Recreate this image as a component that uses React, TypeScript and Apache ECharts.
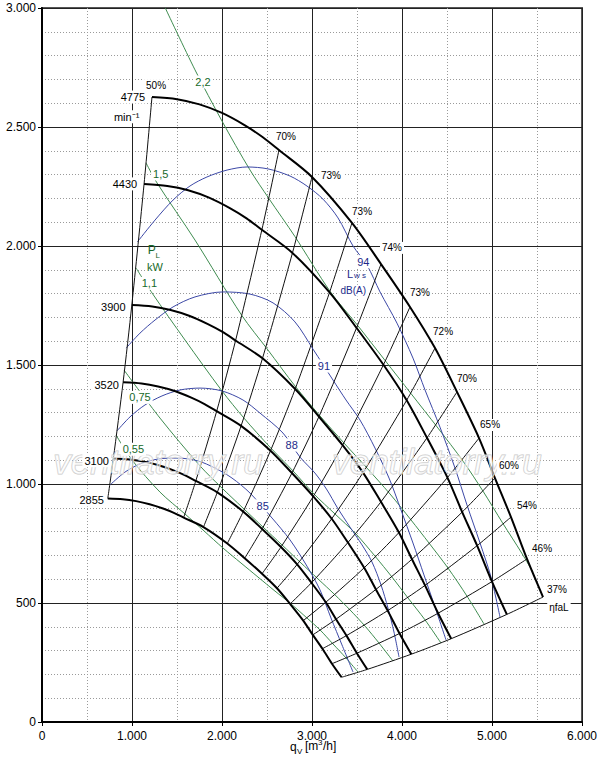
import React, { useEffect, useRef } from 'react';
import * as echarts from 'echarts';

const FONT = 'Liberation Sans, Arial, Helvetica, sans-serif';

// ---- speed curves (rpm) : points at the iso-efficiency lines ----
const speedLabels = ['4775', '4430', '3900', '3520', '3100', '2855'];
const effLabels = ['50%', '70%', '73%', '73%', '74%', '73%', '72%', '70%', '65%', '60%', '54%', '46%', '37%'];

const eff4775 = [[1222, 2626], [2633, 2403], [3000, 2290], [3444, 2097], [3767, 1924], [4089, 1744], [4367, 1571], [4611, 1387], [4856, 1193], [5033, 1025], [5211, 861], [5389, 685], [5567, 525]];
const mid4775 = [[1500, 2617], [1750, 2595], [2000, 2559], [2250, 2508], [2450, 2458]];
const eff4430 = [[1134, 2260], [2443, 2068], [2783, 1971], [3195, 1805], [3495, 1656], [3794, 1501], [4052, 1352], [4278, 1194], [4505, 1027], [4669, 882], [4835, 741], [5000, 590], [5165, 452]];
const mid4430 = [[1392, 2252], [1624, 2234], [1856, 2203], [2087, 2159], [2273, 2116]];
const eff3900 = [[998, 1752], [2151, 1603], [2450, 1528], [2813, 1399], [3077, 1283], [3340, 1163], [3567, 1048], [3766, 925], [3966, 796], [4111, 684], [4256, 574], [4401, 457], [4547, 350]];
const mid3900 = [[1225, 1746], [1429, 1731], [1634, 1707], [1838, 1673], [2001, 1640]];
const eff3520 = [[901, 1427], [1941, 1306], [2212, 1244], [2539, 1140], [2777, 1046], [3014, 948], [3219, 854], [3399, 754], [3580, 648], [3710, 557], [3841, 468], [3973, 372], [4104, 285]];
const mid3520 = [[1106, 1422], [1290, 1410], [1474, 1391], [1659, 1363], [1806, 1336]];
const eff3100 = [[793, 1107], [1709, 1013], [1948, 965], [2236, 884], [2446, 811], [2655, 735], [2835, 662], [2994, 585], [3153, 503], [3267, 432], [3383, 363], [3499, 289], [3614, 221]];
const mid3100 = [[974, 1103], [1136, 1094], [1298, 1079], [1461, 1057], [1591, 1036]];
const eff2855 = [[731, 939], [1574, 859], [1794, 819], [2059, 750], [2252, 688], [2445, 623], [2611, 562], [2757, 496], [2903, 426], [3009, 366], [3116, 308], [3222, 245], [3329, 188]];
const mid2855 = [[897, 936], [1046, 928], [1196, 915], [1345, 897], [1465, 879]];

// ---- shaft power lines P_L [kW] ----
const powerLabels = ['2,2', '1,5', '1,1', '0,75', '0,55'];
const pw22 = [[1370, 3000], [1700, 2740], [2000, 2525], [2310, 2320], [2520, 2200], [2810, 2040], [3200, 1810], [3510, 1665], [3810, 1520], [4100, 1380], [4400, 1235], [4680, 1095], [4900, 970], [5120, 835], [5330, 710], [5455, 630]];
const pw15 = [[1156, 2349], [1278, 2265], [1700, 2025], [2217, 1710], [2511, 1563], [2811, 1412], [3089, 1286], [3356, 1172], [3611, 1067], [3867, 958], [4100, 849], [4300, 752], [4511, 647], [4722, 529], [4911, 412]];
const pw11 = [[1044, 1908], [1222, 1803], [1589, 1605], [2000, 1391], [2244, 1277], [2533, 1155], [2789, 1055], [3022, 958], [3256, 874], [3489, 790], [3700, 697], [3889, 609], [4067, 521], [4256, 429], [4433, 332]];
const pw075 = [[911, 1479], [1311, 1277], [1756, 1076], [1989, 987], [2233, 899], [2456, 819], [2667, 744], [2867, 672], [3067, 601], [3256, 534], [3422, 471], [3589, 403], [3744, 332], [3900, 256]];
const pw055 = [[822, 1206], [1000, 1101], [1311, 966], [1589, 874], [1800, 803], [2011, 731], [2211, 668], [2400, 609], [2589, 550], [2767, 496], [2944, 437], [3089, 387], [3233, 328], [3378, 269], [3511, 210]];

// ---- sound power lines Lw s [dB(A)] ----
const noiseLabels = ['94', '91', '88', '85'];
const lw94 = [[1060, 2017], [1256, 2109], [1456, 2193], [1644, 2252], [1833, 2290], [2056, 2319], [2278, 2332], [2511, 2324], [2756, 2294], [2944, 2252], [3122, 2197], [3289, 2118], [3456, 2000], [3611, 1920], [3756, 1807], [3944, 1676], [4122, 1529], [4256, 1395], [4422, 1239], [4589, 1067], [4722, 912], [4867, 752], [4989, 609], [5089, 441]];
const lw91 = [[935, 1571], [1089, 1634], [1256, 1689], [1456, 1744], [1700, 1786], [2011, 1807], [2311, 1798], [2567, 1761], [2811, 1681], [3011, 1567], [3233, 1437], [3378, 1353], [3533, 1269], [3700, 1151], [3856, 1025], [3989, 891], [4122, 752], [4244, 618], [4367, 483], [4489, 345]];
const lw88 = [[833, 1223], [978, 1282], [1144, 1332], [1333, 1370], [1533, 1395], [1756, 1403], [2000, 1391], [2233, 1353], [2422, 1298], [2678, 1214], [2867, 1113], [3033, 1046], [3167, 975], [3278, 903], [3422, 819], [3556, 744], [3667, 672], [3767, 576], [3844, 479], [3911, 378], [3967, 273]];
const lw85 = [[756, 996], [922, 1050], [1089, 1084], [1289, 1105], [1511, 1109], [1733, 1097], [1922, 1067], [2111, 1025], [2311, 962], [2556, 857], [2756, 765], [2944, 655], [3089, 555], [3211, 437], [3333, 324], [3456, 210]];

// ---- label anchor positions (data coordinates) ----
const effLabelPos = [[1267, 2676], [2711, 2462], [3211, 2298], [3556, 2147], [3889, 1992], [4200, 1803], [4456, 1639], [4722, 1445], [4978, 1248], [5189, 1076], [5389, 908], [5556, 731], [5722, 555]];
const speedLabelPos = [[1011, 2626], [922, 2261], [792, 1745], [719, 1416], [607, 1098], [552, 933]];
const powerLabelPos = [[1789, 2689], [1319, 2303], [1193, 1843], [1089, 1364], [1015, 1146]];
const noiseLabelPos = [[3570, 1934], [3133, 1496], [2774, 1164], [2452, 908]];

const xTicks = [0, 1000, 2000, 3000, 4000, 5000, 6000];
const yTicks = [0, 500, 1000, 1500, 2000, 2500, 3000];

const fmtThousands = (v: number) => {
  if (v < 1000) return String(v);
  return Math.floor(v / 1000) + '.' + String(v % 1000).padStart(3, '0');
};

const BLACK = '#000';
const GREEN = '#3f8c50';
const GREEN_TXT = '#17692a';
const BLUE = '#3c48a6';
const BLUE_TXT = '#1c2a8a';

export default function App() {
  const ref = useRef<HTMLDivElement>(null);
  useEffect(() => {
    if (!ref.current) return;
    const chart = echarts.init(ref.current, undefined, { renderer: 'svg' });

    const effBySpeed = [eff4775, eff4430, eff3900, eff3520, eff3100, eff2855];
    const midBySpeed = [mid4775, mid4430, mid3900, mid3520, mid3100, mid2855];
    const speedCurves = effBySpeed.map((eff, i) => [eff[0], ...midBySpeed[i], ...eff.slice(1)]);
    const effLines = effLabels.map((_, j) => effBySpeed.map((eff) => eff[j]));
    const powerLines = [pw22, pw15, pw11, pw075, pw055];
    const noiseLines = [lw94, lw91, lw88, lw85];

    const series: any[] = [];
    powerLines.forEach((d, i) => series.push({
      type: 'line', name: 'P ' + powerLabels[i], data: d, showSymbol: false, smooth: 0.3, silent: true, z: 3,
      lineStyle: { color: GREEN, width: 1 },
    }));
    noiseLines.forEach((d, i) => series.push({
      type: 'line', name: 'Lw ' + noiseLabels[i], data: d, showSymbol: false, smooth: 0.3, silent: true, z: 4,
      lineStyle: { color: BLUE, width: 1 },
    }));
    effLines.forEach((d, i) => series.push({
      type: 'line', name: 'eta ' + i, data: d, showSymbol: false, smooth: 0.25, silent: true, z: 5,
      lineStyle: { color: '#111', width: 1 },
    }));
    speedCurves.forEach((d, i) => series.push({
      type: 'line', name: 'n ' + speedLabels[i], data: d, showSymbol: false, smooth: 0.3, silent: true, z: 6,
      lineStyle: { color: BLACK, width: 2 },
    }));

    const lbl = (text: string, pos: number[], color: string, size: number, bg = true) => ({
      value: pos,
      label: {
        show: true, position: 'inside', formatter: text, color, fontSize: size, fontFamily: FONT, opacity: 1,
        textBorderWidth: 0, backgroundColor: bg ? '#fff' : 'transparent', padding: bg ? [1, 2] : 0,
      },
    });
    const labelData: any[] = [];
    effLabels.forEach((t, i) => labelData.push(lbl(t, effLabelPos[i], '#000', 10)));
    labelData.push(lbl('ηfaL', [5744, 483], '#000', 10));
    speedLabels.forEach((t, i) => labelData.push(lbl(t, speedLabelPos[i], '#000', 11)));
    labelData.push(lbl('min⁻¹', [940, 2543], '#000', 11));
    powerLabels.forEach((t, i) => labelData.push(lbl(t, powerLabelPos[i], GREEN_TXT, 11)));
    labelData.push(lbl('P', [1219, 1983], GREEN_TXT, 12, false));
    labelData.push(lbl('L', [1285, 1958], GREEN_TXT, 8, false));
    labelData.push(lbl('kW', [1256, 1910], GREEN_TXT, 11));
    noiseLabels.forEach((t, i) => labelData.push(lbl(t, noiseLabelPos[i], BLUE_TXT, 11)));
    labelData.push(lbl('L', [3422, 1882], BLUE_TXT, 11, false));
    labelData.push(lbl('w s', [3533, 1875], BLUE_TXT, 8, false));
    labelData.push(lbl('dB(A)', [3459, 1812], BLUE_TXT, 10));

    series.push({
      type: 'scatter', name: 'labels', data: labelData, symbolSize: 1, silent: true, z: 10,
      itemStyle: { color: 'rgba(0,0,0,0)', opacity: 1 },
    });

    const wm = (text: string, x: number, y: number) => ({
      type: 'text', silent: true, z: 8,
      style: {
        text, x, y, align: 'center', verticalAlign: 'middle',
        font: 'italic 35px ' + FONT, fill: 'rgba(255,255,255,0.5)', stroke: '#c9c9c9', lineWidth: 1,
      },
    });
    const t = (text: string, x: number, y: number, size: number) => ({
      type: 'text', silent: true, z: 50,
      style: { text, x, y, align: 'left', verticalAlign: 'middle', font: size + 'px ' + FONT, fill: '#000' },
    });

    chart.setOption({
      animation: false,
      backgroundColor: '#fff',
      grid: { left: 42, right: 18, top: 8, bottom: 41, show: true, borderColor: '#555', borderWidth: 2, backgroundColor: '#fff' },
      xAxis: {
        type: 'value', min: xTicks[0], max: xTicks[xTicks.length - 1], interval: 1000,
        axisLine: { show: true, onZero: false, lineStyle: { color: '#000', width: 2 } },
        axisTick: { show: true, length: 4, lineStyle: { color: '#000' } },
        axisLabel: { formatter: (v: number) => fmtThousands(v), color: '#000', fontSize: 12, fontFamily: FONT, margin: 8 },
        splitLine: { show: true, lineStyle: { color: '#222', width: 1 } },
        minorTick: { show: false, splitNumber: 2 },
        minorSplitLine: { show: true, lineStyle: { color: '#9a9a9a', width: 1, type: [1, 2] } },
      },
      yAxis: {
        type: 'value', min: yTicks[0], max: yTicks[yTicks.length - 1], interval: 500,
        axisLine: { show: true, onZero: false, lineStyle: { color: '#000', width: 2 } },
        axisTick: { show: true, length: 4, lineStyle: { color: '#000' } },
        axisLabel: { formatter: (v: number) => fmtThousands(v), color: '#000', fontSize: 12, fontFamily: FONT, margin: 6 },
        splitLine: { show: true, lineStyle: { color: '#222', width: 1 } },
        minorTick: { show: false, splitNumber: 5 },
        minorSplitLine: { show: true, lineStyle: { color: '#9a9a9a', width: 1, type: [1, 2] } },
      },
      graphic: [
        wm('ventilatorry.ru', 158, 461),
        wm('ventilatorry.ru', 437, 461),
        t('q', 290, 747, 12),
        t('V', 297, 751, 8),
        t('[m', 305, 746, 12),
        t('3', 318, 742, 8),
        t('/h]', 323, 746, 12),
      ],
      series,
    });
    return () => chart.dispose();
  }, []);
  return <div ref={ref} style={{ position: 'fixed', left: 0, top: 0, width: 600, height: 763 }} />;
}
